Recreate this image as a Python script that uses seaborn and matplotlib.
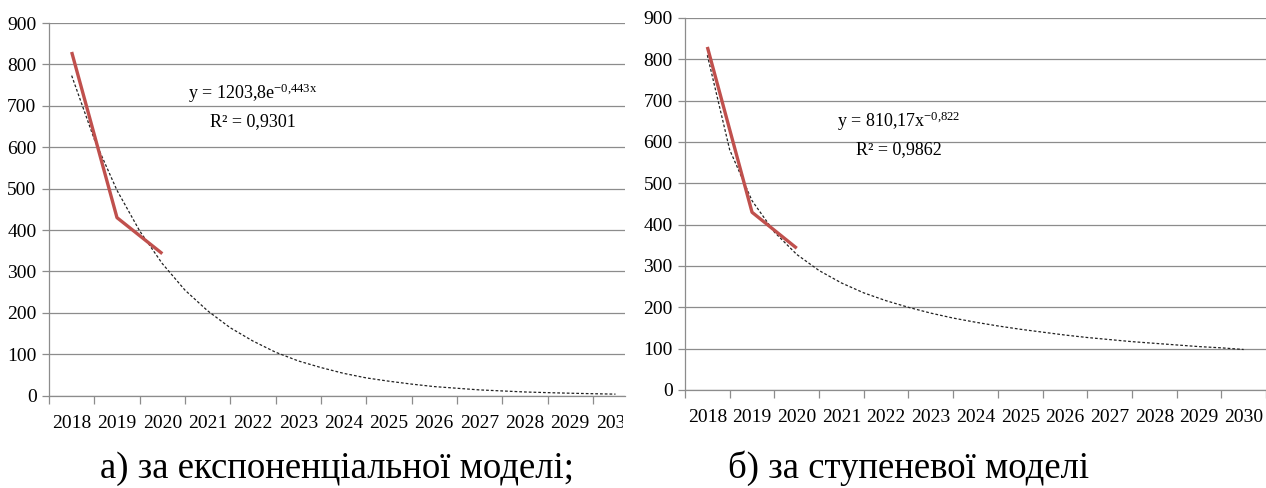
import matplotlib
matplotlib.use("Agg")
import matplotlib.pyplot as plt
import seaborn as sns
import pandas as pd
from matplotlib.transforms import Bbox, TransformedBbox

sns.set_style("white")
plt.rcParams['font.family'] = ['Liberation Serif', 'DejaVu Serif']
plt.rcParams['text.color'] = 'black'
plt.rcParams['xtick.color'] = 'black'
plt.rcParams['ytick.color'] = 'black'
plt.rcParams['mathtext.fontset'] = 'custom'
plt.rcParams['mathtext.rm'] = 'Liberation Serif'
plt.rcParams['mathtext.it'] = 'Liberation Serif'
plt.rcParams['mathtext.default'] = 'regular'

# data
years = ["2018", "2019", "2020", "2021", "2022", "2023", "2024",
         "2025", "2026", "2027", "2028", "2029", "2030"]
actual = [830, 430, 343]

# trend curves read every half year step (2018 .. 2030)
exp_trend = [773, 619, 496, 398, 319, 255, 205, 164, 132, 105, 84, 68, 54,
             43, 35, 28, 22, 18, 14, 11.5, 9, 7.4, 6, 4.8, 3.8]
pow_trend = [810, 581, 458, 382, 328, 289, 259, 235, 216, 200, 186, 174, 164,
             155, 147, 140, 133, 127, 122, 117, 113, 109, 105, 102, 98]

exp_eq = "y = 1203,8e$^{-0{,}443x}$"
exp_r2 = "R² = 0,9301"
pow_eq = "y = 810,17x$^{-0{,}822}$"
pow_r2 = "R² = 0,9862"

captions = ["а) за експоненціальної моделі;", "б) за ступеневої моделі"]

RED = "#C0504D"
GRID = "#8C8C8C"

fig = plt.figure(figsize=(12.66, 4.88), dpi=100)
ax1 = fig.add_axes([49 / 1266, 1 - 395.7 / 488, 576 / 1266, 372.7 / 488])
ax2 = fig.add_axes([685 / 1266, 1 - 390 / 488, 581 / 1266, 372 / 488])


def draw_panel(ax, trend, eq, r2, eq_pos, xmax):
    pos = list(range(len(years)))
    df_act = pd.DataFrame({"x": pos[:len(actual)], "y": actual})
    df_tr = pd.DataFrame({"x": [i / 2 for i in range(len(trend))], "y": trend})
    sns.lineplot(data=df_tr, x="x", y="y", ax=ax, color="#222222",
                 linewidth=0.9, linestyle=(0, (2.2, 1.6)))
    sns.lineplot(data=df_act, x="x", y="y", ax=ax, color=RED,
                 linewidth=2.4, solid_capstyle="butt")
    ax.set_yticks(range(0, 1000, 100))
    ax.yaxis.grid(True, color=GRID, linewidth=0.9)
    ax.set_axisbelow(True)
    ax.set_xticks(pos)
    ax.set_xticklabels(years, fontsize=14)
    ax.set_xticks([p - 0.5 for p in pos] + [len(years) - 0.5], minor=True)
    # limits after the ticks, set_xticks would widen them otherwise
    ax.set_xlim(-0.5, xmax)
    ax.set_ylim(0, 900)
    ax.tick_params(axis="x", which="major", bottom=True, length=0, pad=14)
    ax.tick_params(axis="x", which="minor", bottom=True, length=6, width=0.9,
                   color=GRID, direction="out")
    ax.tick_params(axis="y", which="major", left=True, length=5, width=0.9,
                   color=GRID, labelsize=14, pad=4)
    for s in ["top", "right"]:
        ax.spines[s].set_visible(False)
    for s in ["left", "bottom"]:
        ax.spines[s].set_color(GRID)
        ax.spines[s].set_linewidth(0.9)
    ax.set_xlabel("")
    ax.set_ylabel("")
    ax.text(eq_pos[0], eq_pos[1], eq, ha="center", va="center", fontsize=13)
    ax.text(eq_pos[0], eq_pos[2], r2, ha="center", va="center", fontsize=13)


draw_panel(ax1, exp_trend, exp_eq, exp_r2, (4.0, 730, 663), 12.21)
draw_panel(ax2, pow_trend, pow_eq, pow_r2, (4.29, 650, 582), 12.5)

# left chart is cut off at its right edge in the source image
clip = TransformedBbox(Bbox([[0, 0], [623 / 1266, 1]]), fig.transFigure)
for lab in ax1.get_xticklabels():
    lab.set_clip_box(clip)
    lab.set_clip_on(True)

fig.text(337 / 1266, 1 - 478 / 488, captions[0], ha="center", va="baseline",
         fontsize=26.5)
fig.text(909 / 1266, 1 - 478 / 488, captions[1], ha="center", va="baseline",
         fontsize=26.5)

fig.savefig("out.png", dpi=100)
